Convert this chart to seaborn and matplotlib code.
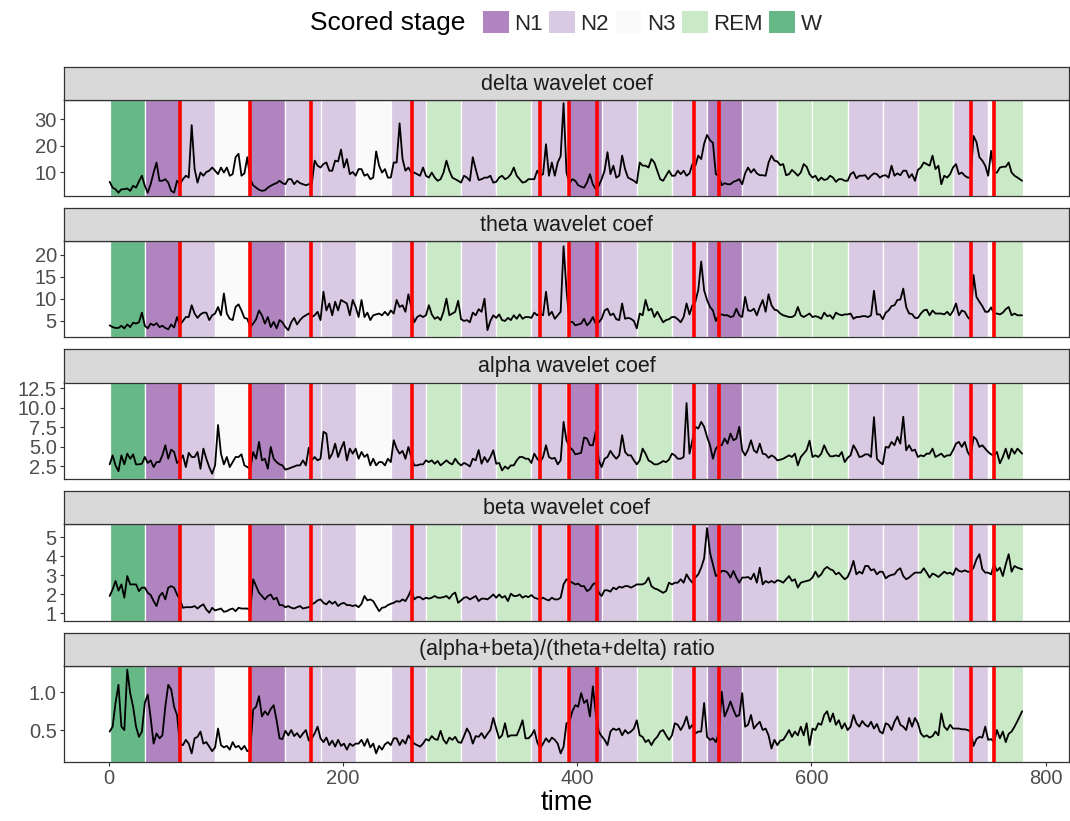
import matplotlib
matplotlib.use("Agg")
import matplotlib.pyplot as plt
from matplotlib.patches import Patch
from matplotlib.colors import to_rgb
import pandas as pd
import seaborn as sns

# ---------------- data ----------------
# samples at t = 1, 6, ..., 776, 780 and in-between samples at t = 3.5, 8.5, ..., 773.5
time = list(range(1, 777, 5)) + [780]
time_mid = [3.5 + 5 * k for k in range(155)]

delta = [6.3, 3.5, 3.5, 3.8, 4.8, 6.5, 4.8, 5.4, 13.6, 6.7,
         6.0, 2.2, 5.4, 8.6, 27.7, 6.0, 8.6, 10.5, 10.5, 11.7,
         11.7, 9.2, 16.9, 9.5, 7.3, 4.1, 2.9, 4.1, 5.4, 6.7,
         5.4, 7.3, 6.7, 5.4, 5.4, 14.3, 11.7, 13.6, 10.5, 14.0,
         11.7, 9.2, 8.6, 11.1, 9.2, 7.9, 12.4, 11.1, 7.9, 13.6,
         15.0, 11.7, 9.8, 8.6, 8.6, 9.8, 6.7, 9.8, 10.5, 7.3,
         6.0, 7.9, 15.6, 7.0, 7.9, 8.6, 6.3, 8.6, 7.9, 11.7,
         7.3, 6.3, 7.3, 10.5, 9.2, 8.6, 8.6, 16.0, 9.8, 7.3,
         5.0, 4.1, 9.2, 3.5, 7.3, 17.5, 12.4, 8.6, 11.1, 7.3,
         5.8, 12.4, 11.7, 13.6, 7.3, 8.6, 8.6, 10.5, 10.5, 9.5,
         12.4, 14.9, 24.0, 21.0, 8.6, 5.8, 5.4, 6.7, 5.4, 11.7,
         11.1, 8.8, 8.6, 16.2, 14.0, 13.0, 9.2, 9.8, 9.8, 12.0,
         7.9, 6.7, 7.0, 8.6, 6.3, 7.3, 6.7, 10.0, 8.6, 8.8,
         8.6, 9.2, 8.6, 7.9, 8.6, 8.8, 10.5, 9.2, 10.8, 13.6,
         12.4, 11.1, 5.4, 7.9, 11.7, 9.2, 8.6, 7.9, 21.3, 14.3,
         8.6, 9.8, 11.7, 12.0, 9.8, 7.9, 6.7]
delta_mid = [4.1, 2.2, 3.5, 2.9, 4.1, 8.6, 2.2, 9.8, 6.7, 7.3,
             2.9, 6.7, 7.3, 7.9, 11.1, 9.8, 10.0, 11.7, 9.2, 9.8,
             8.6, 15.6, 8.6, 15.6, 5.0, 3.3, 3.1, 4.8, 5.8, 5.8,
             7.3, 5.4, 5.8, 5.0, 5.4, 12.4, 13.0, 10.5, 14.3, 18.5,
             14.9, 10.0, 11.1, 8.6, 7.3, 17.8, 9.8, 7.9, 13.6, 28.4,
             10.5, 9.8, 9.2, 11.7, 7.9, 7.9, 7.3, 14.3, 7.9, 6.7,
             8.6, 6.7, 11.1, 7.3, 7.9, 6.0, 7.9, 7.3, 9.2, 8.6,
             6.0, 7.3, 7.3, 8.6, 20.5, 13.6, 13.6, 36.0, 5.8, 6.7,
             4.5, 6.0, 5.4, 4.8, 10.5, 9.2, 7.9, 16.2, 7.9, 6.7,
             13.6, 12.4, 14.9, 10.5, 6.7, 10.5, 8.6, 9.2, 8.6, 13.0,
             16.2, 20.7, 22.0, 9.2, 5.0, 5.4, 6.3, 7.3, 9.5, 9.8,
             9.5, 8.8, 13.6, 14.3, 12.6, 8.8, 10.8, 8.6, 13.0, 9.2,
             8.6, 7.9, 7.3, 7.9, 7.3, 6.7, 9.2, 7.6, 8.6, 7.3,
             9.5, 7.9, 8.8, 12.4, 9.5, 10.5, 7.9, 6.7, 11.7, 13.0,
             16.2, 12.4, 8.6, 9.2, 13.0, 9.8, 7.9, 23.6, 15.6, 12.4,
             18.0, 9.8, 12.0, 13.6, 8.6]

theta = [3.9, 3.3, 3.8, 4.1, 4.5, 4.6, 3.8, 4.3, 4.4, 3.8,
         3.0, 3.4, 4.0, 5.8, 8.5, 5.6, 6.8, 5.1, 6.6, 6.2,
         6.6, 5.1, 8.7, 5.6, 3.5, 5.3, 6.2, 5.8, 4.7, 5.1,
         3.5, 4.6, 4.1, 5.8, 6.6, 6.2, 5.1, 7.3, 6.2, 7.3,
         9.3, 6.2, 8.1, 9.7, 6.8, 6.2, 6.6, 7.0, 7.3, 9.7,
         8.5, 11.0, 4.6, 6.2, 6.2, 6.4, 5.8, 7.0, 6.2, 7.0,
         5.3, 5.1, 6.8, 7.6, 10.0, 4.9, 5.6, 5.1, 5.6, 6.2,
         6.4, 5.8, 5.6, 6.2, 6.2, 6.2, 5.4, 7.0, 12.0, 4.7,
         4.1, 5.4, 4.6, 4.3, 5.4, 7.7, 6.6, 5.1, 5.4, 5.4,
         3.2, 6.2, 7.3, 5.8, 5.8, 5.1, 5.8, 5.3, 5.8, 6.4,
         9.3, 18.5, 9.7, 7.3, 6.2, 6.2, 5.8, 7.7, 5.8, 7.3,
         7.7, 8.1, 7.0, 8.5, 7.3, 6.2, 5.8, 6.2, 6.2, 6.2,
         5.8, 5.8, 6.8, 6.2, 6.8, 6.2, 6.4, 5.4, 5.8, 6.0,
         6.2, 6.4, 5.3, 7.3, 8.5, 9.8, 8.1, 6.5, 5.6, 7.3,
         6.2, 6.6, 6.6, 7.0, 7.2, 6.2, 7.0, 5.1, 10.4, 8.3,
         7.0, 6.6, 6.4, 7.6, 6.2, 6.2, 6.2]
theta_mid = [3.5, 3.3, 3.2, 3.5, 4.3, 6.8, 3.2, 3.9, 3.5, 3.3,
             4.1, 5.8, 4.9, 5.8, 6.6, 6.4, 6.8, 6.2, 8.1, 11.2,
             5.4, 8.1, 7.3, 5.4, 4.3, 7.3, 4.3, 3.5, 3.2, 4.6,
             2.8, 5.6, 5.1, 6.2, 5.8, 7.0, 11.6, 8.9, 9.3, 9.7,
             8.9, 9.7, 5.8, 5.8, 5.1, 6.4, 6.2, 6.2, 6.6, 8.1,
             7.0, 8.1, 5.8, 5.8, 8.5, 5.4, 5.1, 10.0, 6.6, 9.5,
             4.9, 4.6, 6.2, 7.0, 2.8, 6.2, 6.4, 4.9, 5.1, 5.4,
             5.4, 5.8, 6.8, 6.6, 11.6, 7.0, 6.2, 22.0, 4.6, 3.9,
             4.3, 3.9, 5.8, 4.6, 7.3, 6.2, 5.3, 8.9, 5.6, 4.9,
             6.6, 9.7, 7.7, 7.0, 4.6, 5.3, 5.8, 4.6, 8.9, 8.5,
             12.0, 11.9, 8.1, 4.9, 6.4, 6.2, 6.0, 6.2, 10.4, 7.2,
             6.2, 9.7, 11.0, 7.5, 6.6, 6.0, 5.8, 8.1, 5.8, 6.6,
             6.0, 5.4, 6.0, 5.4, 6.4, 6.4, 6.6, 5.8, 6.0, 5.8,
             11.8, 6.4, 6.8, 8.3, 9.7, 12.3, 6.6, 5.6, 6.6, 7.5,
             7.3, 6.6, 6.4, 6.2, 8.9, 7.3, 5.8, 15.4, 9.3, 7.0,
             8.0, 6.6, 6.8, 8.1, 6.6]

alpha = [2.77, 2.64, 3.92, 4.14, 4.05, 2.77, 3.71, 3.28, 3.06, 3.92,
         3.5, 4.35, 3.28, 2.42, 3.71, 4.35, 4.78, 2.42, 2.64, 4.14,
         3.71, 3.06, 3.71, 2.64, 2.21, 3.49, 3.28, 2.21, 3.49, 2.77,
         2.1, 2.35, 2.64, 3.28, 4.9, 3.71, 3.49, 6.7, 4.14, 3.71,
         5.64, 4.78, 4.78, 4.35, 4.05, 3.49, 3.06, 2.64, 3.06, 4.78,
         4.5, 5.0, 2.64, 2.77, 3.28, 3.28, 3.2, 2.95, 2.95, 3.49,
         2.64, 2.77, 3.49, 4.6, 3.71, 3.71, 2.85, 2.0, 2.21, 2.64,
         3.71, 3.49, 2.95, 3.49, 3.71, 3.71, 3.6, 3.28, 5.85, 4.65,
         4.14, 6.2, 5.21, 7.0, 2.42, 3.71, 3.92, 3.92, 4.35, 3.92,
         2.77, 4.78, 3.28, 2.77, 2.95, 3.06, 4.14, 3.49, 3.71, 4.14,
         7.57, 8.2, 6.28, 3.49, 5.21, 6.07, 6.7, 6.07, 4.57, 4.65,
         4.57, 5.42, 4.05, 3.92, 3.28, 3.49, 3.92, 4.14, 3.71, 4.6,
         3.71, 3.71, 5.21, 3.8, 3.92, 4.35, 3.6, 5.21, 3.71, 4.05,
         3.71, 3.49, 2.77, 4.9, 5.21, 5.42, 4.57, 4.5, 3.71, 3.8,
         4.14, 3.71, 4.14, 3.92, 4.57, 5.64, 5.64, 3.71, 5.95, 5.21,
         4.35, 3.92, 2.9, 4.78, 4.78, 4.78, 4.14]
alpha_mid = [3.92, 1.9, 2.77, 3.49, 2.77, 2.85, 2.95, 2.42, 3.06, 5.21,
             4.65, 2.95, 3.92, 4.25, 3.71, 2.21, 3.49, 1.57, 7.8, 2.77,
             2.42, 3.71, 4.05, 2.42, 4.35, 5.64, 3.49, 5.0, 3.06, 2.64,
             2.21, 2.5, 2.64, 2.64, 3.28, 3.28, 6.93, 3.49, 5.42, 4.78,
             3.28, 4.14, 3.49, 3.71, 2.64, 2.64, 3.06, 3.49, 5.85, 4.14,
             3.49, 3.71, 2.64, 2.77, 3.06, 2.85, 2.64, 3.28, 2.77, 2.95,
             2.95, 2.5, 3.28, 2.85, 3.06, 4.57, 2.95, 2.5, 2.64, 3.28,
             3.71, 3.49, 4.14, 3.06, 5.21, 3.49, 2.77, 8.2, 5.0, 4.05,
             4.25, 6.07, 5.21, 3.28, 3.49, 4.5, 3.49, 6.5, 3.92, 3.28,
             3.28, 4.14, 3.06, 2.77, 3.2, 3.37, 3.92, 3.49, 10.6, 5.85,
             7.35, 7.57, 5.21, 4.78, 5.21, 5.42, 5.85, 7.57, 3.92, 5.85,
             4.25, 4.14, 3.6, 3.71, 3.37, 3.71, 3.71, 2.64, 4.14, 5.8,
             3.92, 4.14, 4.35, 3.8, 3.8, 3.06, 3.92, 4.57, 3.8, 4.05,
             8.8, 3.06, 5.0, 5.64, 6.28, 8.86, 5.21, 4.65, 3.92, 4.14,
             4.78, 3.92, 3.71, 3.92, 5.42, 5.0, 4.35, 6.28, 5.0, 4.78,
             4.05, 4.35, 3.71, 3.49, 4.14]

beta = [1.92, 2.71, 2.53, 2.97, 2.53, 2.18, 2.36, 1.97, 1.39, 2.09,
        2.36, 2.36, 1.74, 1.33, 1.33, 1.26, 1.48, 1.04, 1.16, 1.26,
        1.12, 1.26, 1.3, 1.26, 1.16, 2.44, 1.92, 1.92, 1.74, 1.44,
        1.33, 1.3, 1.33, 1.26, 1.33, 1.56, 1.74, 1.48, 1.51, 1.39,
        1.56, 1.44, 1.44, 1.51, 1.69, 1.65, 1.12, 1.33, 1.51, 1.65,
        1.74, 1.92, 1.74, 1.86, 1.83, 1.83, 1.83, 1.86, 1.78, 2.1,
        1.69, 1.86, 1.83, 1.65, 1.78, 1.86, 1.83, 1.83, 1.65, 1.92,
        2.0, 1.92, 1.97, 1.78, 1.83, 1.69, 1.74, 1.83, 2.8, 2.62,
        2.57, 2.44, 2.27, 2.62, 1.92, 2.22, 2.36, 2.41, 2.44, 2.36,
        2.53, 2.53, 2.89, 2.32, 2.18, 2.18, 2.53, 2.62, 2.62, 2.8,
        2.89, 3.41, 5.5, 3.59, 3.06, 3.24, 2.89, 2.89, 2.89, 2.92,
        3.1, 3.41, 2.71, 2.71, 2.75, 2.62, 2.97, 2.8, 2.62, 2.71,
        2.89, 2.92, 3.33, 3.33, 3.06, 2.97, 2.92, 3.77, 3.2, 3.5,
        3.27, 3.06, 3.19, 2.97, 3.06, 3.38, 2.8, 3.03, 3.15, 3.38,
        2.89, 3.03, 3.06, 3.1, 3.03, 3.24, 3.27, 3.2, 3.85, 3.33,
        3.15, 3.59, 3.41, 3.59, 3.2, 3.41, 3.33]
beta_mid = [2.27, 2.2, 1.83, 2.53, 2.53, 2.36, 2.09, 1.65, 1.92, 1.74,
            2.44, 2.0, 1.3, 1.33, 1.39, 1.39, 1.21, 1.3, 1.21, 1.09,
            1.21, 1.12, 1.26, 1.26, 2.8, 2.09, 1.74, 2.0, 1.83, 1.44,
            1.39, 1.26, 1.39, 1.3, 1.48, 1.69, 1.56, 1.65, 1.62, 1.51,
            1.44, 1.39, 1.33, 1.92, 1.74, 1.39, 1.3, 1.44, 1.56, 1.62,
            1.65, 2.27, 1.86, 1.74, 1.78, 1.92, 1.83, 1.92, 2.0, 1.56,
            1.83, 1.74, 1.92, 1.78, 1.74, 2.0, 2.0, 1.92, 2.04, 1.92,
            1.83, 1.86, 1.83, 1.74, 1.74, 1.83, 1.74, 2.53, 2.71, 2.53,
            2.44, 2.18, 2.53, 2.09, 2.22, 2.15, 2.27, 2.36, 2.44, 2.44,
            2.53, 2.62, 2.44, 2.27, 2.09, 2.62, 2.62, 2.8, 3.06, 2.62,
            3.06, 3.9, 4.2, 2.97, 3.24, 3.15, 3.24, 2.62, 2.89, 2.8,
            2.62, 2.53, 2.62, 2.62, 2.71, 2.8, 2.71, 2.36, 2.67, 2.75,
            3.2, 3.06, 3.45, 3.27, 3.15, 2.8, 3.27, 3.06, 3.1, 3.5,
            3.33, 3.2, 2.85, 3.03, 3.27, 2.97, 2.89, 3.15, 3.15, 3.15,
            3.1, 2.92, 3.2, 3.15, 3.38, 3.2, 3.2, 3.41, 4.12, 3.15,
            3.06, 3.24, 2.97, 4.12, 3.5]

ratio = [0.48, 0.86, 0.545, 1.3, 0.81, 0.41, 0.86, 0.66, 0.455, 0.43,
         1.1, 0.81, 0.32, 0.37, 0.19, 0.41, 0.32, 0.28, 0.27, 0.30,
         0.29, 0.34, 0.29, 0.29, 0.23, 0.81, 0.68, 0.70, 0.83, 0.39,
         0.49, 0.50, 0.46, 0.455, 0.36, 0.455, 0.39, 0.40, 0.36, 0.37,
         0.32, 0.32, 0.32, 0.37, 0.38, 0.32, 0.29, 0.31, 0.30, 0.39,
         0.37, 0.43, 0.32, 0.28, 0.38, 0.42, 0.37, 0.37, 0.40, 0.41,
         0.33, 0.52, 0.32, 0.41, 0.39, 0.50, 0.52, 0.43, 0.41, 0.43,
         0.52, 0.39, 0.43, 0.34, 0.32, 0.34, 0.37, 0.19, 0.59, 0.75,
         0.81, 0.86, 0.68, 0.72, 0.42, 0.30, 0.52, 0.52, 0.50, 0.48,
         0.63, 0.41, 0.37, 0.37, 0.48, 0.43, 0.43, 0.57, 0.57, 0.52,
         0.455, 0.48, 0.41, 0.39, 0.455, 0.68, 0.88, 0.68, 0.99, 0.57,
         0.52, 0.61, 0.52, 0.255, 0.30, 0.37, 0.50, 0.48, 0.545, 0.59,
         0.52, 0.59, 0.70, 0.61, 0.57, 0.52, 0.50, 0.70, 0.545, 0.57,
         0.61, 0.58, 0.455, 0.57, 0.61, 0.57, 0.50, 0.545, 0.59, 0.41,
         0.40, 0.48, 0.72, 0.50, 0.52, 0.52, 0.51, 0.48, 0.38, 0.40,
         0.37, 0.34, 0.39, 0.34, 0.48, 0.62, 0.75]
ratio_mid = [0.545, 1.1, 0.50, 0.99, 0.545, 0.48, 0.97, 0.32, 0.39, 0.81,
             1.04, 0.70, 0.30, 0.32, 0.39, 0.48, 0.34, 0.22, 0.52, 0.27,
             0.24, 0.27, 0.24, 0.22, 0.77, 0.95, 0.75, 0.78, 0.63, 0.38,
             0.43, 0.42, 0.40, 0.50, 0.39, 0.545, 0.34, 0.30, 0.28, 0.29,
             0.24, 0.29, 0.32, 0.29, 0.27, 0.19, 0.24, 0.34, 0.39, 0.30,
             0.32, 0.37, 0.30, 0.32, 0.36, 0.38, 0.49, 0.32, 0.37, 0.34,
             0.42, 0.455, 0.42, 0.46, 0.45, 0.66, 0.39, 0.59, 0.43, 0.43,
             0.63, 0.39, 0.50, 0.255, 0.39, 0.40, 0.32, 0.28, 0.61, 0.83,
             0.99, 0.90, 1.08, 0.48, 0.37, 0.48, 0.50, 0.43, 0.455, 0.52,
             0.43, 0.34, 0.30, 0.41, 0.50, 0.37, 0.59, 0.50, 0.68, 0.57,
             0.48, 0.86, 0.37, 0.34, 1.01, 0.77, 0.77, 0.70, 0.545, 0.70,
             0.57, 0.50, 0.43, 0.37, 0.36, 0.43, 0.41, 0.43, 0.43, 0.30,
             0.50, 0.57, 0.75, 0.72, 0.63, 0.59, 0.545, 0.59, 0.62, 0.545,
             0.52, 0.48, 0.59, 0.50, 0.68, 0.545, 0.66, 0.66, 0.455, 0.43,
             0.42, 0.43, 0.545, 0.57, 0.52, 0.51, 0.50, 0.29, 0.41, 0.545,
             0.38, 0.50, 0.48, 0.45, 0.545]

panel_titles = ["delta wavelet coef", "theta wavelet coef", "alpha wavelet coef",
                "beta wavelet coef", "(alpha+beta)/(theta+delta) ratio"]

stage_start = [1, 31, 61, 91, 121, 151, 181, 211, 241, 271, 301, 331, 361, 391,
               421, 451, 481, 511, 541, 571, 601, 631, 661, 691, 721, 751, 756]
stage_end = [31, 61, 91, 121, 151, 181, 211, 241, 271, 301, 331, 361, 391, 421,
             451, 481, 511, 541, 571, 601, 631, 661, 691, 721, 751, 756, 781]
stage_label = ["W", "N1", "N2", "N3", "N1", "N2", "N2", "N3", "N2", "REM", "N2",
               "REM", "N2", "N1", "N2", "REM", "N2", "N1", "N2", "REM", "REM",
               "N2", "N2", "REM", "N2", "N3", "REM"]

red_lines = [61, 121, 173, 259, 368, 393, 417, 500, 521, 736, 756]

legend_stages = ["N1", "N2", "N3", "REM", "W"]

# ---------------- styling ----------------
stage_colors = {"N1": "#7b3294", "N2": "#c2a5cf", "N3": "#f7f7f7",
                "REM": "#a6dba0", "W": "#008837"}
FILL_ALPHA = 0.6


def blend(c, a=FILL_ALPHA):
    r, g, b = to_rgb(c)
    return (r * a + (1 - a), g * a + (1 - a), b * a + (1 - a))


sns.set_theme(style="white")
plt.rcParams["font.family"] = ["Liberation Sans", "DejaVu Sans"]

main_series = [delta, theta, alpha, beta, ratio]
mid_series = [delta_mid, theta_mid, alpha_mid, beta_mid, ratio_mid]
frames = []
for s, sm, t in zip(main_series, mid_series, panel_titles):
    frames.append(pd.DataFrame({"time": time, "value": s, "variable": t}))
    frames.append(pd.DataFrame({"time": time_mid, "value": sm, "variable": t}))
df = pd.concat(frames, ignore_index=True).sort_values(["variable", "time"])

W, H = 1070, 821
fig = plt.figure(figsize=(W / 100, H / 100), dpi=100)

left_px, right_px = 64, 1069
plot_px = [(100, 196.5), (241, 337), (382.5, 479), (524, 620.5), (665.5, 762)]
strip_h = 33

ylims = [(0.76, 37.2), (1.23, 23.2), (0.9, 13.23), (0.63, 5.71), (0.076, 1.357)]
yticks = [[10, 20, 30], [5, 10, 15, 20], [2.5, 5.0, 7.5, 10.0, 12.5],
          [1, 2, 3, 4, 5], [0.5, 1.0]]
ylabels_fmt = ["{:g}", "{:g}", "{:.1f}", "{:g}", "{:.1f}"]

edge_col = "#333333"
tick_col = "#4d4d4d"

for i, (title, (top, bot)) in enumerate(zip(panel_titles, plot_px)):
    ax = fig.add_axes([left_px / W, 1 - bot / H, (right_px - left_px) / W, (bot - top) / H])
    for xs, xe, lab in zip(stage_start, stage_end, stage_label):
        ax.axvspan(xs, xe, facecolor=blend(stage_colors[lab]), edgecolor="white",
                   linewidth=0.9, zorder=0)
    sub = df[df["variable"] == title]
    sns.lineplot(data=sub, x="time", y="value", ax=ax, color="black",
                 linewidth=1.3, estimator=None, sort=True, zorder=2)
    for rl in red_lines:
        ax.axvline(rl, color="red", linewidth=2.6, zorder=3)
    ax.set_xlim(-38, 820)
    ax.set_ylim(*ylims[i])
    ax.set_yticks(yticks[i])
    ax.set_yticklabels([ylabels_fmt[i].format(v) for v in yticks[i]])
    ax.set_ylabel("")
    ax.tick_params(axis="y", left=True, length=3.2, width=0.8, color=edge_col,
                   labelsize=14.5, labelcolor=tick_col, pad=2)
    for sp in ax.spines.values():
        sp.set_color(edge_col)
        sp.set_linewidth(0.9)
    if i < 4:
        ax.tick_params(axis="x", bottom=False, labelbottom=False)
        ax.set_xlabel("")
    else:
        ax.set_xticks([0, 200, 400, 600, 800])
        ax.tick_params(axis="x", bottom=True, length=3.2, width=0.8, color=edge_col,
                       labelsize=14.5, labelcolor=tick_col, pad=2)
        ax.set_xlabel("time", fontsize=20, color="black", labelpad=1)

    # facet strip
    sax = fig.add_axes([left_px / W, 1 - top / H, (right_px - left_px) / W, strip_h / H])
    sax.set_facecolor("#d9d9d9")
    sax.set_xticks([])
    sax.set_yticks([])
    for sp in sax.spines.values():
        sp.set_color(edge_col)
        sp.set_linewidth(0.9)
    sax.text(0.5, 0.47, title, ha="center", va="center", fontsize=15.5,
             color="#1a1a1a", transform=sax.transAxes)

# legend at top
fig.text(310 / W, 1 - 23 / H, "Scored stage", ha="left", va="center",
         fontsize=19, color="black")
handles = [Patch(facecolor=blend(stage_colors[s]), edgecolor="none", label=s)
           for s in legend_stages]
fig.legend(handles=handles, loc="center left", bbox_to_anchor=(483 / W, 1 - 23 / H),
           ncol=5, frameon=False, fontsize=16, handlelength=1.15, handleheight=1.15,
           handletextpad=0.25, columnspacing=0.3, borderpad=0, borderaxespad=0)

fig.savefig("out.png", dpi=100)
